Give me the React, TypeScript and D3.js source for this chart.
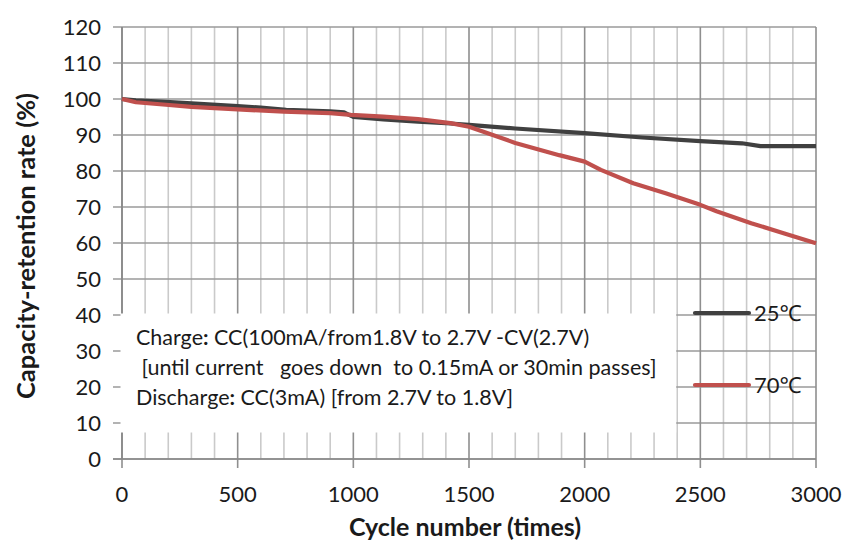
import React from 'react';
import * as d3 from 'd3';

const cycles25 = [0, 60, 190, 300, 500, 600, 710, 900, 960, 1000, 1130, 1280, 1420, 1500, 1700, 2000, 2250, 2500, 2680, 2760, 2850, 3000];
const retention25 = [100, 99.6, 99.2, 98.8, 98.0, 97.6, 97.0, 96.6, 96.3, 95.0, 94.3, 93.7, 93.2, 92.8, 91.8, 90.5, 89.3, 88.3, 87.7, 86.9, 86.9, 86.9];
const cycles70 = [0, 60, 190, 300, 500, 700, 900, 990, 1130, 1280, 1420, 1500, 1550, 1700, 1890, 2000, 2070, 2210, 2350, 2500, 2570, 2720, 2860, 3000];
const retention70 = [100, 99.1, 98.4, 97.8, 97.1, 96.5, 96.1, 95.6, 95.1, 94.4, 93.3, 92.3, 91.2, 87.8, 84.4, 82.6, 80.3, 76.6, 73.8, 70.6, 68.8, 65.5, 62.7, 59.9];
const yTicks = [0, 10, 20, 30, 40, 50, 60, 70, 80, 90, 100, 110, 120];
const xTicks = [0, 500, 1000, 1500, 2000, 2500, 3000];
const xMinor = d3.range(0, 3001, 100);
const seriesNames = ['25℃', '70℃'];
const seriesColors = ['#404040', '#C0504D'];
const noteLines: [string, string, string][] = [
  ['Charge', ':', ' CC(100mA/from1.8V to 2.7V -CV(2.7V)'],
  [' [until current   goes down  to 0.15mA or 30min passes]', '', ''],
  ['Discharge', ':', ' CC(3mA) [from 2.7V to 1.8V]'],
];

const FONT = "Lato, 'Open Sans', 'Noto Sans', sans-serif";

export default function App() {
  const x = d3.scaleLinear().domain([0, 3000]).range([122, 816]);
  const y = d3.scaleLinear().domain([0, 120]).range([459, 27]);
  const line = d3.line<[number, number]>().x(d => x(d[0])).y(d => y(d[1]));
  const s25 = cycles25.map((c, i) => [c, retention25[i]] as [number, number]);
  const s70 = cycles70.map((c, i) => [c, retention70[i]] as [number, number]);
  const txt = '#1a1a1a';

  return (
    <svg width={849} height={542} style={{ position: 'absolute', left: 0, top: 0, background: '#fff' }} fontFamily={FONT}>
      <rect x={0} y={0} width={849} height={542} fill="#fff" />
      {xMinor.filter(v => v % 500 !== 0).map(v => (
        <line key={'m' + v} x1={x(v)} x2={x(v)} y1={y(120)} y2={y(0)} stroke="#cacaca" strokeWidth={1.6} />
      ))}
      {yTicks.map(v => (
        <line key={'h' + v} x1={113} x2={x(3000)} y1={y(v)} y2={y(v)} stroke="#9a9a9a" strokeWidth={1.5} />
      ))}
      {xTicks.map(v => (
        <line key={'M' + v} x1={x(v)} x2={x(v)} y1={y(120)} y2={y(0) + 9} stroke="#8f8f8f" strokeWidth={1.6} />
      ))}
      <line x1={x(0)} x2={x(0)} y1={y(120)} y2={y(0)} stroke="#888" strokeWidth={1.6} />
      <line x1={113} x2={x(3000)} y1={y(0)} y2={y(0)} stroke="#888" strokeWidth={1.6} />

      <rect x={120.5} y={y(40) - 1.5} width={x(2400) - 121.5} height={y(10) - y(40) + 11} fill="#fff" />
      {noteLines.map((t, i) => (
        <text key={'n' + i} x={136} y={345 + i * 30} fontSize={21.5} fill={txt} xmlSpace="preserve" style={{ whiteSpace: 'pre' }}>
          {t[0]}<tspan fontWeight="bold">{t[1]}</tspan>{t[2]}
        </text>
      ))}

      <path d={line(s25) || ''} fill="none" stroke={seriesColors[0]} strokeWidth={4.2} strokeLinejoin="round" />
      <path d={line(s70) || ''} fill="none" stroke={seriesColors[1]} strokeWidth={4.2} strokeLinejoin="round" />

      {seriesNames.map((n, i) => {
        const ly = i === 0 ? 313 : 385;
        return (
          <g key={n}>
            <line x1={695} x2={749} y1={ly} y2={ly} stroke={seriesColors[i]} strokeWidth={4.2} strokeLinecap="round" />
            <text x={754} y={ly + 8} fontSize={22} fill={txt}>{n}</text>
          </g>
        );
      })}

      {yTicks.map(v => (
        <text key={'yl' + v} x={101} y={y(v) + 8} textAnchor="end" fontSize={22} fill={txt}>{v}</text>
      ))}
      {xTicks.map(v => (
        <text key={'xl' + v} x={x(v)} y={502} textAnchor="middle" fontSize={22} fill={txt}>{v}</text>
      ))}
      <text x={465} y={536} textAnchor="middle" fontSize={25} fontWeight="bold" fill={txt}>Cycle number (times)</text>
      <text transform="translate(35,246) rotate(-90)" textAnchor="middle" fontSize={25.5} fontWeight="bold" fill={txt}>Capacity-retention rate (%)</text>
    </svg>
  );
}
